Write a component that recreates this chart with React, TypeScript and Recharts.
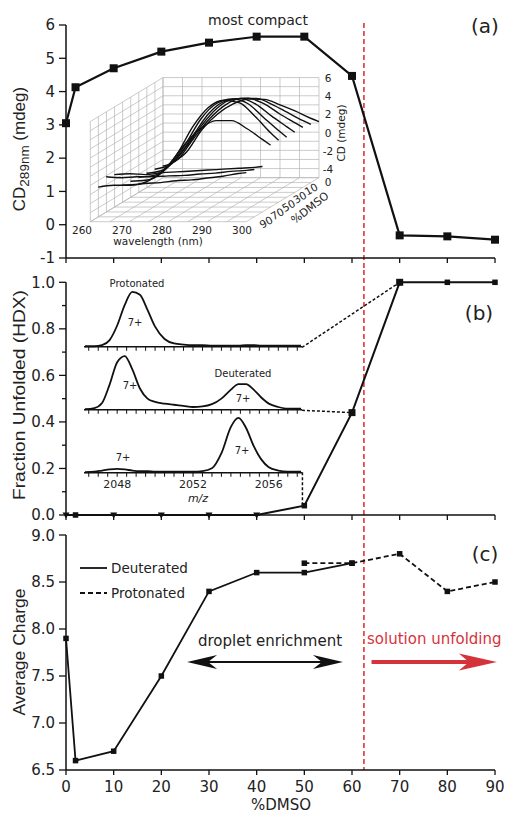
import React from "react";
import { LineChart, Line, XAxis, YAxis, ReferenceLine } from "recharts";

const SANS = "'DejaVu Sans', sans-serif";
const ARIAL = "'Liberation Sans', Arial, sans-serif";
const INK = "#111";
const RED = "#e2262c";
const RED_TEXT = "#d5333a";

// shared %DMSO axis
const xTicks = [0, 10, 20, 30, 40, 50, 60, 70, 80, 90];
const transitionDmso = 62.5;

// (a) CD at 289 nm
const dmsoA = [0, 2, 10, 20, 30, 40, 50, 60, 70, 80, 90];
const cd289 = [3.05, 4.13, 4.7, 5.2, 5.47, 5.65, 5.65, 4.47, -0.32, -0.35, -0.45];
const cdTicks = [-1, 0, 1, 2, 3, 4, 5, 6];

// (b) fraction unfolded (HDX)
const dmsoB = [0, 2, 10, 20, 30, 40, 50, 60, 70, 80, 90];
const fracUnfolded = [0, 0, 0, 0, 0, 0, 0.04, 0.44, 1, 1, 1];
const fracTicks = [0, 0.1, 0.2, 0.3, 0.4, 0.5, 0.6, 0.7, 0.8, 0.9, 1.0];

// (c) average charge
const dmsoDeut = [0, 2, 10, 20, 30, 40, 50, 60];
const chargeDeut = [7.9, 6.6, 6.7, 7.5, 8.4, 8.6, 8.6, 8.7];
const dmsoProt = [50, 60, 70, 80, 90];
const chargeProt = [8.7, 8.7, 8.8, 8.4, 8.5];
const chargeTicks = [6.5, 7, 7.5, 8, 8.5, 9];

// CD spectra inset (a)
const cdWavelengths = [262, 266, 270, 274, 278, 282, 286, 290, 294, 298, 300];
const cd0 = [-3.4, -2.2, 0.3, 2.0, 3.1, 3.65, 3.6, 3.0, 2.3, 1.5, 1.16];
const cd10 = [-3.2, -2.4, -0.1, 2.0, 3.5, 4.25, 4.25, 3.6, 2.7, 1.8, 1.4];
const cd20 = [-3.0, -2.5, -0.6, 1.8, 3.7, 4.7, 4.8, 4.2, 3.1, 2.1, 1.6];
const cd30 = [-2.9, -2.6, -1.1, 1.3, 3.7, 5.0, 5.3, 4.7, 3.4, 2.2, 1.6];
const cd40 = [-2.8, -2.6, -1.5, 0.8, 3.6, 5.3, 5.8, 5.3, 3.8, 2.3, 1.6];
const cd50 = [-2.7, -2.6, -1.8, 0.3, 3.3, 5.4, 6.2, 5.9, 4.4, 2.6, 1.8];
const cd60 = [-2.6, -2.5, -1.8, -0.3, 1.9, 3.6, 4.5, 4.5, 3.6, 2.4, 1.8];
const cd70 = [-0.9, -0.8, -0.9, -0.7, -0.6, -0.5, -0.4, -0.3, -0.2, -0.1, 0.0];
const cd80 = [-0.6, -0.7, -0.6, -0.6, -0.5, -0.45, -0.3, -0.2, 0.0, 0.1, 0.2];
const cd90 = [-1.2, -1.0, -1.0, -0.8, -0.7, -0.5, -0.4, -0.2, 0.0, 0.3, 0.4];
const cdInsetDmso = [0, 10, 20, 30, 40, 50, 60, 70, 80, 90];
const cdInsetSpectra = [cd0, cd10, cd20, cd30, cd40, cd50, cd60, cd70, cd80, cd90];
const insetWlTicks = [260, 270, 280, 290, 300];
const insetCdTicks = [6, 4, 2, 0, -2, -4];
const insetDmsoTicks = [10, 30, 50, 70, 90];
const gridWl = [260, 265, 270, 275, 280, 285, 290, 295, 300];
const gridCd = [-5, -4, -3, -2, -1, 0, 1, 2, 3, 4, 5, 6];
const gridDmso = [0, 10, 20, 30, 40, 50, 60, 70, 80, 90];

// mass spectra insets (b)
const mz = [2046.3, 2046.8, 2047.2, 2047.6, 2048.0, 2048.4, 2048.8, 2049.2, 2049.6, 2050.0, 2050.5, 2051.0, 2051.5,
  2052.0, 2052.5, 2053.0, 2053.5, 2054.0, 2054.4, 2054.8, 2055.2, 2055.6, 2056.0, 2056.5, 2057.0, 2057.7];
const msProtonated = [0.01, 0.01, 0.03, 0.12, 0.38, 0.75, 0.98, 0.93, 0.66, 0.36, 0.14, 0.06, 0.04,
  0.03, 0.03, 0.02, 0.02, 0.02, 0.02, 0.03, 0.03, 0.02, 0.02, 0.02, 0.02, 0.02];
const msMixed = [0.01, 0.03, 0.12, 0.45, 0.85, 0.96, 0.72, 0.38, 0.2, 0.14, 0.11, 0.09, 0.07,
  0.05, 0.06, 0.1, 0.2, 0.36, 0.46, 0.46, 0.36, 0.22, 0.11, 0.05, 0.02, 0.02];
const msDeuterated = [0.01, 0.02, 0.04, 0.06, 0.07, 0.06, 0.04, 0.03, 0.03, 0.02, 0.02, 0.02, 0.02,
  0.02, 0.03, 0.08, 0.35, 0.82, 0.98, 0.8, 0.48, 0.24, 0.1, 0.04, 0.02, 0.02];
const mzLabels = [2048, 2052, 2056];
const mzTicks = Array.from({ length: 23 }, (_, i) => 2046.5 + i * 0.5);

const rowsA = dmsoA.map((x, i) => ({ x, y: cd289[i] }));
const rowsB = dmsoB.map((x, i) => ({ x, y: fracUnfolded[i] }));
const rowsDeut = dmsoDeut.map((x, i) => ({ x, y: chargeDeut[i] }));
const rowsProt = dmsoProt.map((x, i) => ({ x, y: chargeProt[i] }));

// oblique projection of the 3D inset: depth (%DMSO) shifts left and down
const DEPTH_X = 18.64 / 90;
const DEPTH_Y = 4.84 / 90;
const proj = (wl: number, cd: number, d: number) => ({ x: wl - d * DEPTH_X, y: cd - d * DEPTH_Y });

const gridSegs: { x: number; y: number }[][] = [];
gridWl.forEach((w) => {
  gridSegs.push([proj(w, -5, 0), proj(w, 6, 0)]);
  gridSegs.push([proj(w, -5, 0), proj(w, -5, 90)]);
});
gridCd.forEach((c) => {
  gridSegs.push([proj(260, c, 0), proj(300, c, 0)]);
  gridSegs.push([proj(260, c, 0), proj(260, c, 90)]);
});
gridDmso.forEach((d) => {
  gridSegs.push([proj(260, -5, d), proj(260, 6, d)]);
  gridSegs.push([proj(260, -5, d), proj(300, -5, d)]);
});

const squareDot = (size: number) => (p: any) => {
  const { cx, cy, index } = p;
  if (cx == null || cy == null) return <g key={index} />;
  return <rect key={index} x={cx - size / 2} y={cy - size / 2} width={size} height={size} fill={INK} />;
};

const fracDot = (p: any) => {
  const { cx, cy, index, payload } = p;
  if (cx == null || cy == null) return <g key={index} />;
  if (payload.y === 0 && index !== 1) {
    return <path key={index} d={`M${cx - 3.5},${cy - 2.5}L${cx + 3.5},${cy - 2.5}L${cx},${cy + 3.5}Z`} fill={INK} />;
  }
  const s = index === 7 || index === 8 ? 7 : 5.5;
  return <rect key={index} x={cx - s / 2} y={cy - s / 2} width={s} height={s} fill={INK} />;
};

const FracTick = (p: any) => {
  const { x, y, payload } = p;
  const v = payload.value;
  const major = Math.round(v * 10) % 2 === 0;
  return (
    <g>
      <line x1={x} x2={x - (major ? 7 : 4)} y1={y} y2={y} stroke={INK} strokeWidth={1.3} />
      {major && (
        <text x={x - 11} y={y} dy="0.36em" textAnchor="end" fontSize={15} fontFamily={SANS} fill="#222">
          {v.toFixed(1)}
        </text>
      )}
    </g>
  );
};

const DoubleArrow = (p: any) => {
  const { x1, y1, x2 } = p;
  const h = 30;
  const w = 7;
  return (
    <g>
      <line x1={x1 + 10} y1={y1} x2={x2 - 10} y2={y1} stroke={INK} strokeWidth={2} />
      <path d={`M${x1},${y1}L${x1 + h},${y1 - w}L${x1 + h - 9},${y1}L${x1 + h},${y1 + w}Z`} fill={INK} />
      <path d={`M${x2},${y1}L${x2 - h},${y1 - w}L${x2 - h + 9},${y1}L${x2 - h},${y1 + w}Z`} fill={INK} />
    </g>
  );
};

const RedArrow = (p: any) => {
  const { x1, y1, x2 } = p;
  const h = 38;
  const w = 8.5;
  return (
    <g>
      <line x1={x1} y1={y1} x2={x2 - 20} y2={y1} stroke={RED_TEXT} strokeWidth={4} />
      <path d={`M${x2},${y1}L${x2 - h},${y1 - w}L${x2 - h + 10},${y1}L${x2 - h},${y1 + w}Z`} fill={RED_TEXT} />
    </g>
  );
};

const axisLine = { stroke: INK, strokeWidth: 1.5 };
const tickLine = { stroke: INK, strokeWidth: 1.3 };
const tickFont = { fontSize: 15, fontFamily: SANS, fill: "#222" };

const Txt = ({ x, y, size = 15, anchor = "middle", fill = "#222", family = SANS, rotate, italic, len, children }: any) => (
  <text
    x={x}
    y={y}
    fontSize={size}
    fontFamily={family}
    textAnchor={anchor}
    dominantBaseline="central"
    fill={fill}
    fontStyle={italic ? "italic" : undefined}
    textLength={len}
    lengthAdjust={len ? "spacingAndGlyphs" : undefined}
    transform={rotate ? `rotate(${rotate} ${x} ${y})` : undefined}
  >
    {children}
  </text>
);

function Spectrum({ top, values, withLabels }: { top: number; values: number[]; withLabels?: boolean }) {
  const rows = mz.map((m, i) => ({ mz: m, i: values[i] }));
  const axisH = withLabels ? 24 : 6;
  return (
    <div style={{ position: "absolute", left: 84, top }}>
      <LineChart width={218} height={58.8 + axisH} data={rows} margin={{ top: 0, right: 0, bottom: 0, left: 0 }}>
        <XAxis
          type="number"
          dataKey="mz"
          domain={[2046.25, 2057.75]}
          ticks={mzTicks}
          interval={0}
          height={axisH}
          tickSize={4}
          tickMargin={3}
          axisLine={axisLine}
          tickLine={{ stroke: INK, strokeWidth: 1 }}
          tick={{ fontSize: 11, fontFamily: SANS, fill: "#222" }}
          tickFormatter={(v: number) => (withLabels && mzLabels.includes(v) ? String(v) : "")}
        />
        <YAxis type="number" domain={[0, 1.05]} hide />
        <Line type="monotone" dataKey="i" stroke={INK} strokeWidth={1.8} dot={false} isAnimationActive={false} />
      </LineChart>
    </div>
  );
}

function CdInset() {
  return (
    <div style={{ position: "absolute", left: 84.7, top: 73.45 }}>
      <LineChart width={241.8} height={150.2} margin={{ top: 0, right: 0, bottom: 0, left: 0 }}>
        <XAxis type="number" dataKey="x" domain={[240, 302]} hide allowDataOverflow />
        <YAxis type="number" domain={[-10, 6.5]} hide allowDataOverflow />
        {gridSegs.map((s, i) => (
          <ReferenceLine key={`g${i}`} segment={s} stroke="#b4b4b4" strokeWidth={0.7} ifOverflow="visible" />
        ))}
        {cdInsetSpectra.map((arr, k) => (
          <Line
            key={`s${k}`}
            data={cdWavelengths.map((w, i) => proj(w, arr[i], cdInsetDmso[k]))}
            dataKey="y"
            type="monotone"
            stroke={INK}
            strokeWidth={1.4}
            dot={false}
            isAnimationActive={false}
          />
        ))}
      </LineChart>
    </div>
  );
}

export default function App() {
  return (
    <div style={{ position: "absolute", left: 0, top: 0, width: 506, height: 814, background: "#fff" }}>
      {/* (a) */}
      <div style={{ position: "absolute", left: 0, top: 0 }}>
        <LineChart width={506} height={270} data={rowsA} margin={{ top: 25, right: 11, bottom: 0, left: 0 }}>
          <XAxis type="number" dataKey="x" domain={[0, 90]} ticks={xTicks} height={12} tickSize={5}
            axisLine={axisLine} tickLine={tickLine} tickFormatter={() => ""} />
          <YAxis type="number" domain={[-1, 6]} ticks={cdTicks} width={66} tickSize={7} tickMargin={4}
            axisLine={axisLine} tickLine={tickLine} tick={tickFont} />
          <ReferenceLine segment={[{ x: transitionDmso, y: 6.06 }, { x: transitionDmso, y: -1.36 }]}
            stroke={RED} strokeWidth={1.5} strokeDasharray="5 3" ifOverflow="visible" />
          <Line dataKey="y" type="linear" stroke={INK} strokeWidth={2.2} dot={squareDot(8)} isAnimationActive={false} />
        </LineChart>
      </div>

      {/* (b) */}
      <div style={{ position: "absolute", left: 0, top: 270 }}>
        <LineChart width={506} height={257} data={rowsB} margin={{ top: 12.3, right: 11, bottom: 0, left: 0 }}>
          <XAxis type="number" dataKey="x" domain={[0, 90]} ticks={xTicks} height={12} tickSize={5}
            axisLine={axisLine} tickLine={tickLine} tickFormatter={() => ""} />
          <YAxis type="number" domain={[0, 1]} ticks={fracTicks} width={66} tickSize={0} tickMargin={0}
            axisLine={axisLine} tickLine={false} tick={<FracTick />} interval={0} />
          <ReferenceLine segment={[{ x: transitionDmso, y: 1.053 }, { x: transitionDmso, y: -0.052 }]}
            stroke={RED} strokeWidth={1.5} strokeDasharray="5 3" ifOverflow="visible" />
          <ReferenceLine segment={[{ x: 49.5, y: 0.72 }, { x: 70, y: 1 }]} stroke={INK} strokeWidth={1.5}
            strokeDasharray="3 2" ifOverflow="visible" />
          <ReferenceLine segment={[{ x: 49.5, y: 0.45 }, { x: 60, y: 0.44 }]} stroke={INK} strokeWidth={1.5}
            strokeDasharray="3 2" ifOverflow="visible" />
          <ReferenceLine segment={[{ x: 49.6, y: 0.184 }, { x: 49.6, y: 0.04 }]} stroke={INK} strokeWidth={1.5}
            strokeDasharray="3 2" ifOverflow="visible" />
          <Line dataKey="y" type="linear" stroke={INK} strokeWidth={2} dot={fracDot} isAnimationActive={false} />
        </LineChart>
      </div>

      {/* (c) */}
      <div style={{ position: "absolute", left: 0, top: 527 }}>
        <LineChart width={506} height={287} margin={{ top: 8, right: 11, bottom: 0, left: 0 }}>
          <XAxis type="number" dataKey="x" domain={[0, 90]} ticks={xTicks} height={44} tickSize={5} tickMargin={6}
            axisLine={axisLine} tickLine={tickLine} tick={tickFont} interval={0} />
          <YAxis type="number" domain={[6.5, 9]} ticks={chargeTicks} width={66} tickSize={7} tickMargin={4}
            axisLine={axisLine} tickLine={tickLine} tick={tickFont} tickFormatter={(v: number) => v.toFixed(1)} />
          <ReferenceLine segment={[{ x: transitionDmso, y: 9.085 }, { x: transitionDmso, y: 6.5 }]}
            stroke={RED} strokeWidth={1.5} strokeDasharray="5 3" ifOverflow="visible" />
          <ReferenceLine segment={[{ x: 25.4, y: 7.65 }, { x: 58.1, y: 7.65 }]} shape={DoubleArrow} ifOverflow="visible" />
          <ReferenceLine segment={[{ x: 64.1, y: 7.65 }, { x: 90.4, y: 7.65 }]} shape={RedArrow} ifOverflow="visible" />
          <Line data={rowsDeut} dataKey="y" type="linear" stroke={INK} strokeWidth={1.8} dot={squareDot(5.5)}
            isAnimationActive={false} />
          <Line data={rowsProt} dataKey="y" type="linear" stroke={INK} strokeWidth={1.8} strokeDasharray="5 3"
            dot={squareDot(5.5)} isAnimationActive={false} />
        </LineChart>
      </div>

      <CdInset />
      <Spectrum top={288.2} values={msProtonated} />
      <Spectrum top={351.2} values={msMixed} />
      <Spectrum top={413.7} values={msDeuterated} withLabels />

      <svg width={506} height={814} style={{ position: "absolute", left: 0, top: 0, pointerEvents: "none" }}>
        {/* axis titles */}
        <text x={19} y={149} fontSize={17} fontFamily={ARIAL} textAnchor="middle" dominantBaseline="central"
          fill="#222" transform="rotate(-90 19 149)">
          CD<tspan fontSize={13.5} dy={5}>289nm</tspan>
          <tspan dy={-5}> (mdeg)</tspan>
        </text>
        <Txt x={19} y={395} size={17} family={ARIAL} rotate={-90} len={210}>Fraction Unfolded (HDX)</Txt>
        <Txt x={19} y={652} size={17} family={ARIAL} rotate={-90} len={127}>Average Charge</Txt>
        <Txt x={281} y={805} size={15}>%DMSO</Txt>

        {/* panel tags and notes */}
        <Txt x={485} y={26} size={20}>(a)</Txt>
        <Txt x={479} y={313} size={20}>(b)</Txt>
        <Txt x={485} y={554} size={20}>(c)</Txt>
        <Txt x={258} y={20} size={14}>most compact</Txt>
        <Txt x={270} y={641} size={15}>droplet enrichment</Txt>
        <Txt x={367} y={639} size={15} anchor="start" fill={RED_TEXT}>solution unfolding</Txt>

        {/* legend (c) */}
        <line x1={80} x2={107} y1={568} y2={568} stroke={INK} strokeWidth={1.8} />
        <Txt x={111} y={568} size={13.5} anchor="start">Deuterated</Txt>
        <line x1={80} x2={107} y1={593} y2={593} stroke={INK} strokeWidth={1.8} strokeDasharray="5 3" />
        <Txt x={111} y={593} size={13.5} anchor="start">Protonated</Txt>

        {/* CD inset labels */}
        {insetWlTicks.map((w) => (
          <Txt key={`w${w}`} x={82 + (w - 260) * 4} y={230} size={10.5}>{w}</Txt>
        ))}
        <Txt x={158} y={241} size={10.5}>wavelength (nm)</Txt>
        {insetCdTicks.map((c) => (
          <Txt key={`c${c}`} x={328} y={78 + (6 - c) * 9.1} size={10.5}>{c}</Txt>
        ))}
        <Txt x={328} y={182} size={10.5}>0</Txt>
        <Txt x={341} y={133} size={10.5} rotate={-90}>CD (mdeg)</Txt>
        {insetDmsoTicks.map((d) => (
          <Txt key={`d${d}`} x={311 - (d - 10) * 0.5625} y={189 + (d - 10) * 0.4125} size={10.5} rotate={-30}>{d}</Txt>
        ))}
        <Txt x={310} y={208} size={11} rotate={-38}>%DMSO</Txt>

        {/* MS inset labels */}
        <Txt x={137} y={283} size={10}>Protonated</Txt>
        <Txt x={135} y={322} size={10}>7+</Txt>
        <Txt x={130} y={385} size={10}>7+</Txt>
        <Txt x={243} y={373} size={10}>Deuterated</Txt>
        <Txt x={243} y={398} size={10}>7+</Txt>
        <Txt x={123} y={457} size={10}>7+</Txt>
        <Txt x={242} y={450} size={10}>7+</Txt>
        <Txt x={198} y={498} size={11} italic>m/z</Txt>
      </svg>
    </div>
  );
}
